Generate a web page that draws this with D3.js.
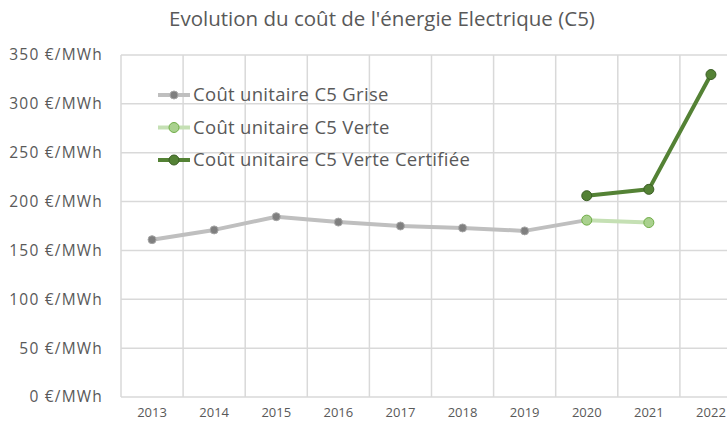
<!DOCTYPE html>
<html>
<head>
<meta charset="utf-8">
<script src="https://cdn.jsdelivr.net/npm/d3@7"></script>
<style>
  body { margin: 0; background: #fff; }
  text { font-family: "Open Sans", Lato, sans-serif; fill: #595959; }
</style>
</head>
<body>
<div id="chart"></div>
<script>
/* Evolution du coût de l'énergie Electrique (C5) */

var years = ['2013', '2014', '2015', '2016', '2017', '2018', '2019', '2020', '2021', '2022'];
var grise = [161, 171, 184.5, 179, 175, 173, 170, 181, null, null];
var verte = [null, null, null, null, null, null, null, 181, 178.5, null];
var certifiee = [null, null, null, null, null, null, null, 206, 212.5, 330];
var yTicks = [0, 50, 100, 150, 200, 250, 300, 350];

var series = [
  { name: 'Coût unitaire C5 Grise', values: grise, line: '#bfbfbf', fill: '#7f7f7f', stroke: '#a6a6a6', width: 4, r: 4 },
  { name: 'Coût unitaire C5 Verte', values: verte, line: '#c5e0b4', fill: '#a9d18e', stroke: '#70ad47', width: 4, r: 5 },
  { name: 'Coût unitaire C5 Verte Certifiée', values: certifiee, line: '#548235', fill: '#548235', stroke: '#3b5e25', width: 4, r: 5 }
];

var width = 727, height = 422;
var plotLeft = 121, plotRight = 742, plotTop = 55, plotBottom = 397;

var svg = d3.select('#chart').append('svg')
  .attr('width', width)
  .attr('height', height);

var x = d3.scaleBand().domain(years).range([plotLeft, plotRight]);
var y = d3.scaleLinear().domain([0, 350]).range([plotBottom, plotTop]);

// gridlines
svg.append('g').selectAll('line').data(yTicks).enter()
  .append('line')
  .attr('x1', plotLeft).attr('x2', plotRight)
  .attr('y1', function(d) { return y(d); })
  .attr('y2', function(d) { return y(d); })
  .style('stroke', '#d9d9d9').style('stroke-width', 1.5);

svg.append('g').selectAll('line').data(years.concat(['end'])).enter()
  .append('line')
  .attr('x1', function(d, i) { return plotLeft + i * x.bandwidth(); })
  .attr('x2', function(d, i) { return plotLeft + i * x.bandwidth(); })
  .attr('y1', plotTop).attr('y2', plotBottom)
  .style('stroke', '#d9d9d9').style('stroke-width', 1.5);

// axis labels
var yAxis = d3.axisLeft(y).tickValues(yTicks).tickSize(0).tickPadding(18)
  .tickFormat(function(d) { return d + '\u00a0€/MWh'; });
var gy = svg.append('g').attr('transform', 'translate(' + plotLeft + ',0)').call(yAxis);
gy.select('.domain').remove();
gy.selectAll('text').style('font-size', '15.5px').style('fill', '#595959')
  .style('letter-spacing', '1.2px')
  .style('font-family', '"Open Sans", sans-serif');

var xAxis = d3.axisBottom(x).tickSize(0).tickPadding(11);
var gx = svg.append('g').attr('transform', 'translate(0,' + plotBottom + ')').call(xAxis);
gx.select('.domain').remove();
gx.selectAll('text').style('font-size', '13px').style('fill', '#595959')
  .style('font-family', '"Open Sans", sans-serif');

// title
svg.append('text')
  .attr('x', 382).attr('y', 26)
  .attr('text-anchor', 'middle')
  .style('font-size', '20.5px')
  .text("Evolution du coût de l'énergie Electrique (C5)");

// lines and markers
var line = d3.line()
  .defined(function(d) { return d != null; })
  .x(function(d, i) { return x(years[i]) + x.bandwidth() / 2; })
  .y(function(d) { return y(d); });

series.forEach(function(s) {
  svg.append('path')
    .datum(s.values)
    .attr('d', line)
    .style('fill', 'none')
    .style('stroke', s.line)
    .style('stroke-width', s.width)
    .style('stroke-linejoin', 'round');

  svg.append('g').selectAll('circle')
    .data(s.values.map(function(v, i) { return { v: v, i: i }; })
      .filter(function(d) { return d.v != null; }))
    .enter().append('circle')
    .attr('cx', function(d) { return x(years[d.i]) + x.bandwidth() / 2; })
    .attr('cy', function(d) { return y(d.v); })
    .attr('r', s.r)
    .style('fill', s.fill)
    .style('stroke', s.stroke)
    .style('stroke-width', 1);
});

// legend
var legend = svg.append('g').selectAll('g').data(series).enter()
  .append('g')
  .attr('transform', function(d, i) { return 'translate(158,' + (95 + i * 32.5) + ')'; });

legend.append('line')
  .attr('x1', 0).attr('x2', 32)
  .style('stroke', function(d) { return d.line; })
  .style('stroke-width', 4);

legend.append('circle')
  .attr('cx', 16)
  .attr('r', function(d) { return d.r; })
  .style('fill', function(d) { return d.fill; })
  .style('stroke', function(d) { return d.stroke; });

legend.append('text')
  .attr('x', 35).attr('dy', '0.35em')
  .style('font-size', '18.5px')
  .style('letter-spacing', '0.3px')
  .text(function(d) { return d.name; });
</script>
</body>
</html>
